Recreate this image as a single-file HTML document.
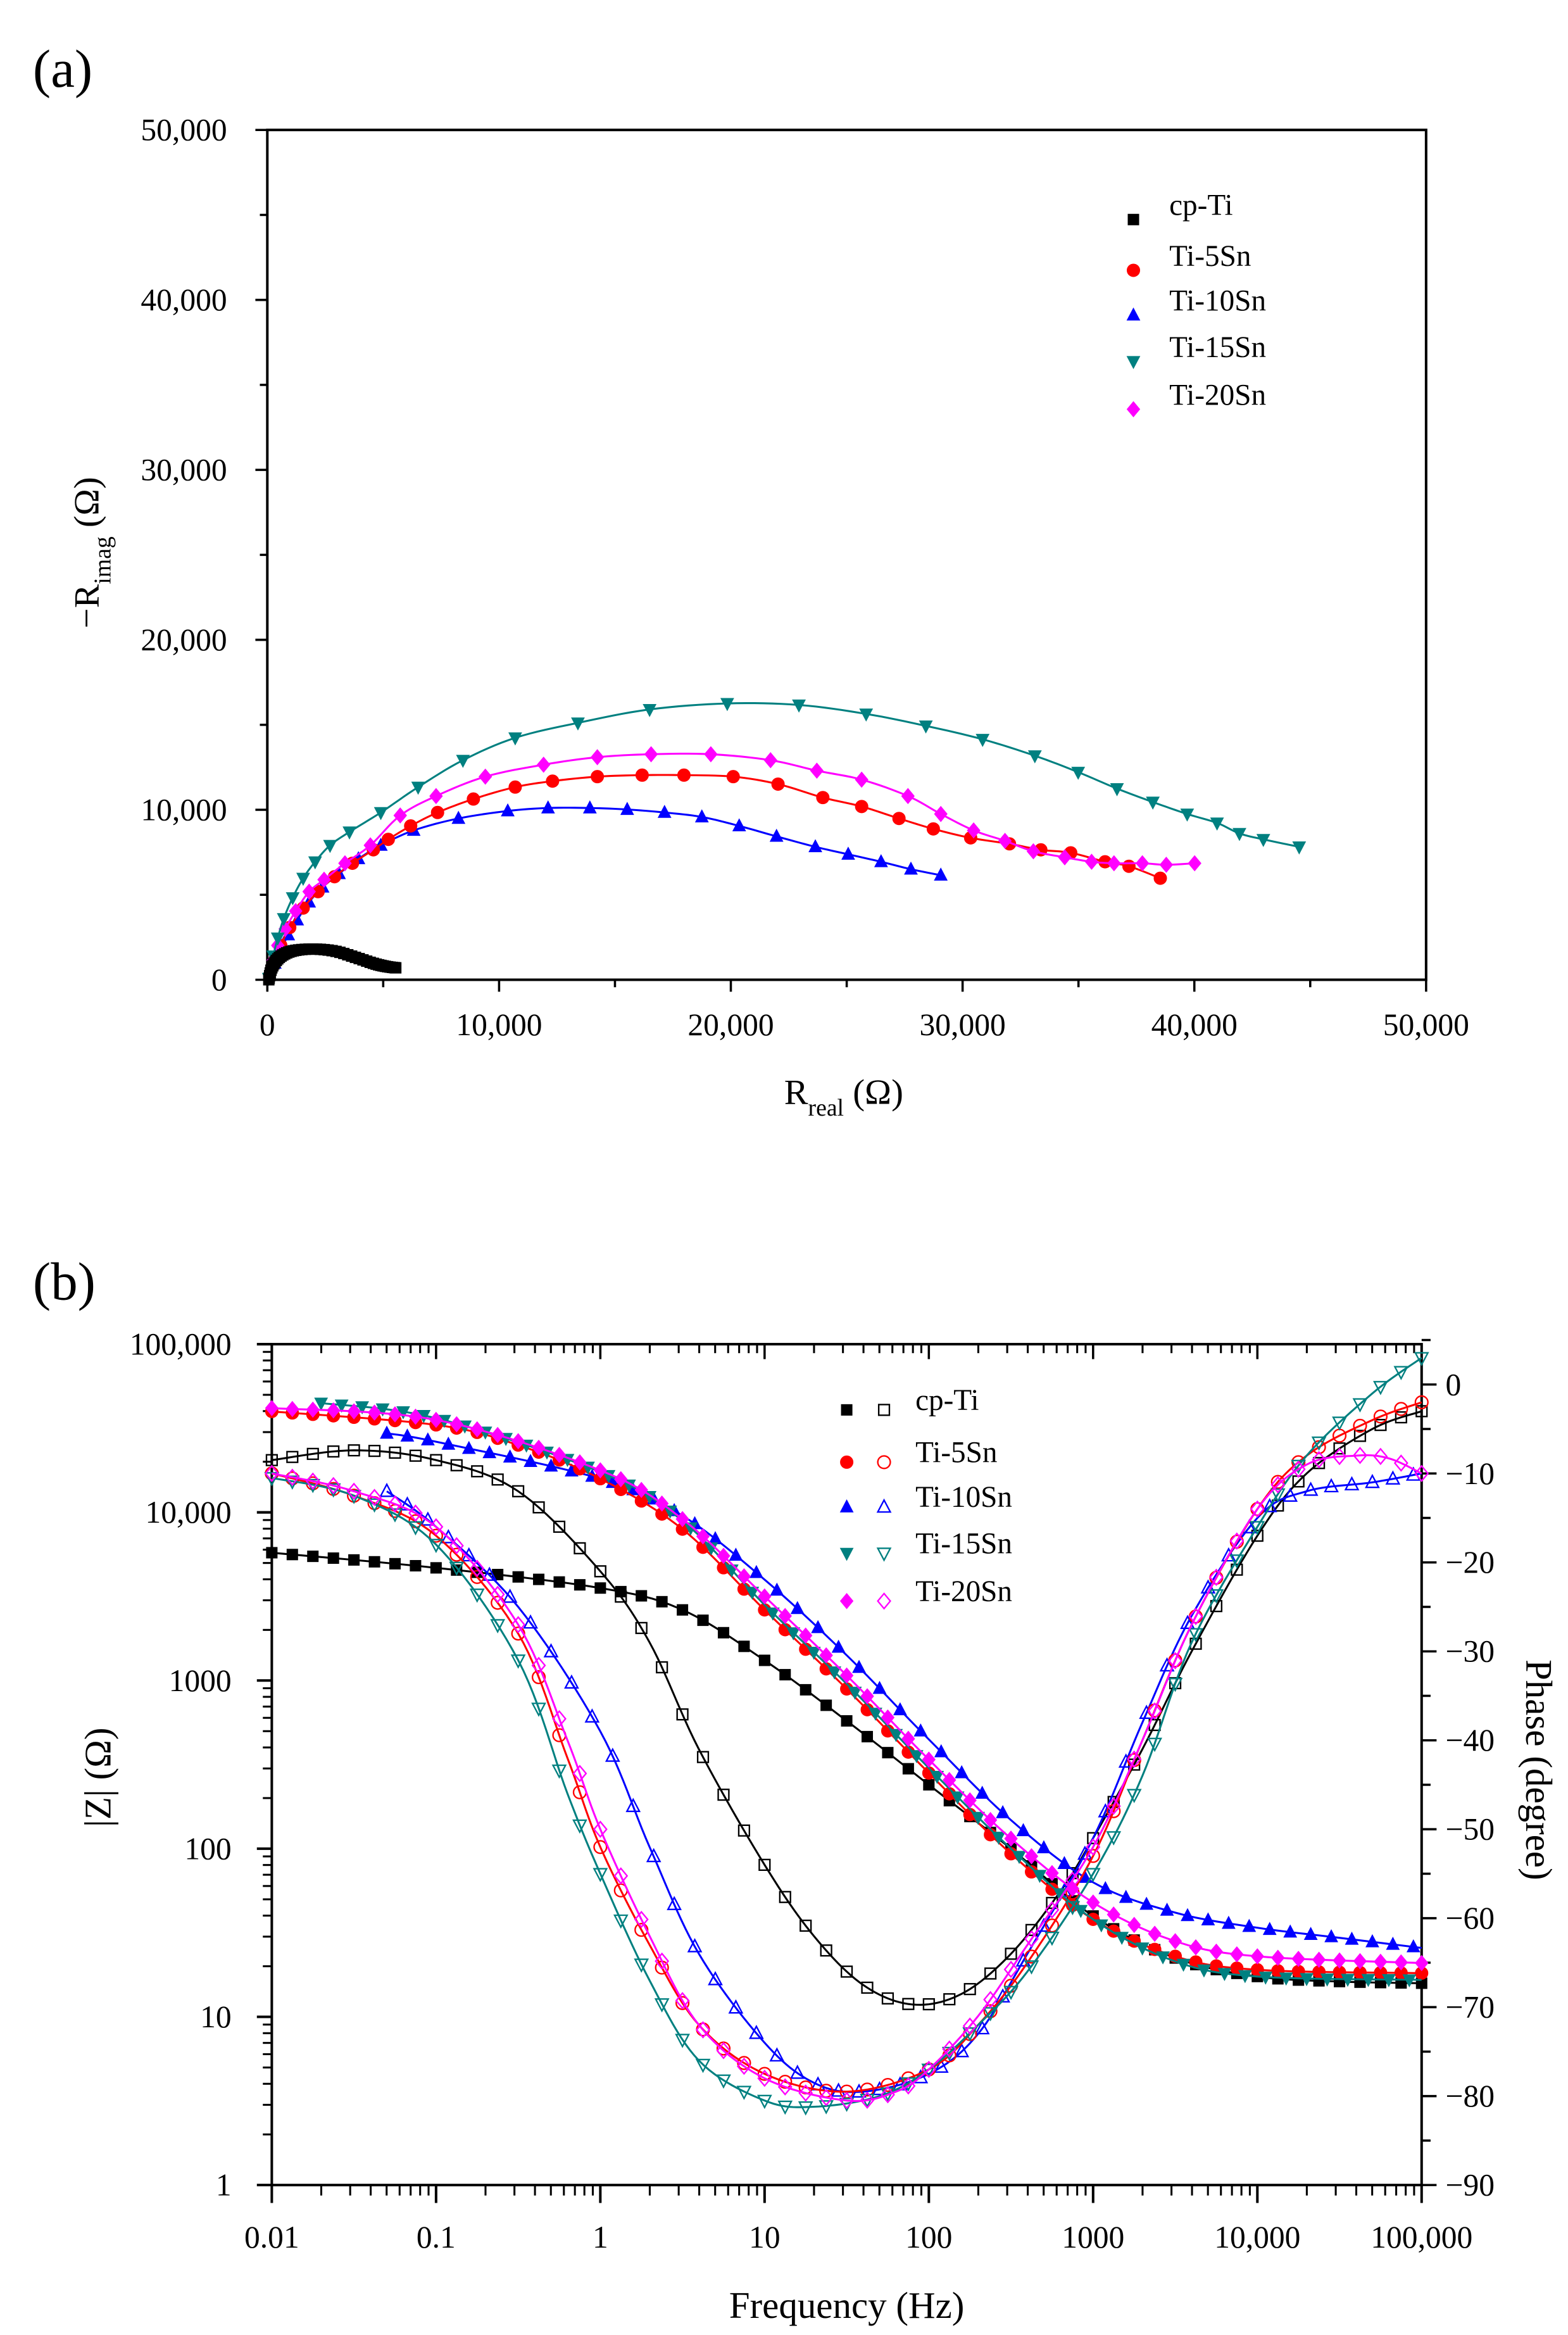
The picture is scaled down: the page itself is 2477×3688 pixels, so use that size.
<!DOCTYPE html>
<html><head><meta charset="utf-8"><style>html,body{margin:0;padding:0;background:#fff}svg{display:block}text{font-family:"Liberation Serif",serif}</style></head>
<body>
<svg id="s" xmlns="http://www.w3.org/2000/svg" width="2477" height="3688" viewBox="0 0 1050 1563.4" font-family="Liberation Serif, serif">
<rect width="1050" height="1564" fill="#fff"/>
<g id="g"></g>
</svg>
<script>
var NS="http://www.w3.org/2000/svg",G=document.getElementById('g');
function el(t,a,txt){var e=document.createElementNS(NS,t);for(var k in a)e.setAttribute(k,a[k]);if(txt!==undefined)e.textContent=txt;G.appendChild(e);return e;}
function line(x1,y1,x2,y2,w){el('line',{x1:x1,y1:y1,x2:x2,y2:y2,stroke:'#000','stroke-width':w||1.5});}
function text(x,y,s,sz,anc,extra){var a={x:x,y:y,'font-size':sz,'text-anchor':anc||'middle',fill:'#000'};for(var k in extra)a[k]=extra[k];return el('text',a,s);}
function cr(p,t){
 var p0=p[0],p1=p[1],p2=p[2],p3=p[3];
 function f(a,b,c,d){return 0.5*((2*b)+(-a+c)*t+(2*a-5*b+4*c-d)*t*t+(-a+3*b-3*c+d)*t*t*t);}
 return [f(p0[0],p1[0],p2[0],p3[0]),f(p0[1],p1[1],p2[1],p3[1])];}
function smooth(pts,n){var out=[];n=n||10;for(var i=0;i<pts.length-1;i++){var a=pts[Math.max(0,i-1)],b=pts[i],c=pts[i+1],d=pts[Math.min(pts.length-1,i+2)];for(var j=0;j<n;j++)out.push(cr([a,b,c,d],j/n));}out.push(pts[pts.length-1]);return out;}
function yAt(sp,x){for(var i=0;i<sp.length-1;i++){if(sp[i][0]<=x&&sp[i+1][0]>=x){var t=(x-sp[i][0])/((sp[i+1][0]-sp[i][0])||1);return sp[i][1]+t*(sp[i+1][1]-sp[i][1]);}}return sp[sp.length-1][1];}
function path(sp,c){var d='M'+sp.map(function(p){return p[0].toFixed(2)+','+p[1].toFixed(2);}).join('L');el('path',{d:d,fill:'none',stroke:c,'stroke-width':1.3});}
function mk(shape,x,y,c,open){var r=4.2,a={fill:open?'none':c,stroke:c,'stroke-width':open?1:0.5};
 if(shape=='sq'){a.x=x-r*0.85;a.y=y-r*0.85;a.width=r*1.7;a.height=r*1.7;el('rect',a);}
 else if(shape=='ci'){a.cx=x;a.cy=y;a.r=r;el('circle',a);}
 else if(shape=='up'){a.points=(x)+','+(y-r*1.1)+' '+(x+r)+','+(y+r*0.8)+' '+(x-r)+','+(y+r*0.8);el('polygon',a);}
 else if(shape=='dn'){a.points=(x)+','+(y+r*1.1)+' '+(x+r)+','+(y-r*0.8)+' '+(x-r)+','+(y-r*0.8);el('polygon',a);}
 else {a.points=x+','+(y-r*1.2)+' '+(x+r)+','+y+' '+x+','+(y+r*1.2)+' '+(x-r)+','+y;el('polygon',a);}}
var C={k:'#000',r:'#ff0000',b:'#0000ff',t:'#008080',m:'#ff00ff'};

text(22,58,'(a)',36,'start');
var L=179,R=955,T=87,B=656;
el('rect',{x:L,y:T,width:R-L,height:B-T,fill:'none',stroke:'#000','stroke-width':1.7});
for(var i=0;i<=10;i++){var x=L+i*(R-L)/10,maj=i%2==0;line(x,B,x,B+(maj?8:5),1.5);
 var y=B-i*(B-T)/10;line(L,y,L-(maj?8:5),y,1.5);
 if(maj){var v=i*5000,s=v==0?'0':(v/1000)+',000';text(x,B+37,s,21);text(152,y+7,s,21,'end');}}
var t1=text(565,739,'R',24);var ts=document.createElementNS(NS,'tspan');ts.setAttribute('font-size','16');ts.setAttribute('dy','8');ts.textContent='real';t1.appendChild(ts);var ts2=document.createElementNS(NS,'tspan');ts2.setAttribute('dy','-8');ts2.textContent=' (Ω)';t1.appendChild(ts2);
var t2=el('text',{x:0,y:0,'font-size':24,'text-anchor':'middle',transform:'translate(66,370) rotate(-90)'},'−R');var u=document.createElementNS(NS,'tspan');u.setAttribute('font-size','16');u.setAttribute('dy','8');u.textContent='imag';t2.appendChild(u);var u2=document.createElementNS(NS,'tspan');u2.setAttribute('dy','-8');u2.textContent=' (Ω)';t2.appendChild(u2);
var leg=[['sq','k','cp-Ti',145],['ci','r','Ti-5Sn',179],['up','b','Ti-10Sn',209],['dn','t','Ti-15Sn',240],['di','m','Ti-20Sn',272]];
leg.forEach(function(l){mk(l[0],759,l[3]+2,C[l[1]]);text(783,l[3]-1,l[2],20,'start');});
var A={
t:[[180,655],[183,640],[186,628],[190,615],[196,601],[203,588],[211,577],[221,566],[234,557],[255,544],[280,527],[310,509],[345,494],[387,484],[435,475],[487,471],[535,472],[580,478],[620,486],[658,495],[693,506],[722,517],[748,528],[772,537],[795,545],[815,551],[830,558],[846,562],[870,567]],
m:[[180,655],[183,643],[186,633],[191,622],[198,610],[207,597],[217,589],[231,578],[248,566],[268,546],[292,533],[325,520],[364,512],[400,507],[436,505],[476,505],[516,509],[547,516],[577,522],[608,533],[630,545],[652,556],[673,563],[692,570],[713,574],[731,577],[746,578],[765,578],[781,579],[800,578]],
r:[[180,655],[184,643],[188,633],[194,621],[203,608],[213,597],[224,587],[236,578],[250,569],[260,562],[275,553],[293,544],[317,535],[345,527],[370,523],[400,520],[430,519],[458,519],[491,520],[521,525],[551,534],[577,540],[602,548],[625,555],[650,561],[676,565],[697,569],[717,571],[740,577],[756,580],[777,588]],
b:[[180,655],[184,645],[188,636],[193,626],[199,616],[207,604],[216,594],[227,585],[240,575],[255,566],[277,556],[307,548],[340,543],[367,541],[395,541],[420,542],[445,544],[470,547],[495,553],[520,560],[546,567],[568,572],[590,577],[610,582],[630,586]],
k:[[180,656],[182,648],[186,642],[192,638],[200,636],[212,635.5],[225,637],[238,641],[250,645],[258,647],[265,648]]};
var shp={k:'sq',r:'ci',b:'up',t:'dn',m:'di'};
['b','r','m','t'].forEach(function(c){var sp=smooth(A[c],8);path(sp,C[c]);A[c].forEach(function(p,i){if(i>0||c=='t')mk(shp[c],p[0],p[1],C[c]);});});
(function(){var sp=smooth(A.k,10);path(sp,C.k);for(var i=0;i<sp.length;i+=2)mk('sq',sp[i][0],sp[i][1],C.k);})();

text(22,870,'(b)',36,'start');
var L2=182,R2=952,T2=900,B2=1463,DX=(R2-L2)/7,DY=(B2-T2)/5;
function X(lf){return L2+(lf+2)*DX;} function YZ(lz){return B2-lz*DY;} function YP(d){return 927+(-d)*(B2-927)/90;}
el('rect',{x:L2,y:T2,width:R2-L2,height:B2-T2,fill:'none',stroke:'#000','stroke-width':1.7});
var xl=['0.01','0.1','1','10','100','1000','10,000','100,000'];
for(var d=0;d<=7;d++){var x=L2+d*DX;line(x,B2,x,B2+12,1.7);line(x,T2,x,T2+10,1.5);text(x,B2+42,xl[d],21);
 if(d<7)for(var m=2;m<=9;m++){var xm=x+Math.log10(m)*DX;line(xm,B2,xm,B2+7,1.3);line(xm,T2,xm,T2+6,1.3);}}
var yl=['1','10','100','1000','10,000','100,000'];
for(var d=0;d<=5;d++){var y=B2-d*DY;line(L2,y,L2-10,y,1.7);text(155,y+7,yl[d],21,'end');
 if(d<5)for(var m=2;m<=9;m++){var ym=y-Math.log10(m)*DY;line(L2,ym,L2-6,ym,1.3);}}
for(var p=0;p<=18;p++){var y=YP(-p*5);if(y<T2)continue;line(R2,y,R2+(p%2==0?10:6),y,1.5);if(p%2==0)text(968,y+7,p==0?'0':'−'+(p*5),21,'start');}
line(R2,YP(5),R2+6,YP(5),1.5);
text(567,1552,'Frequency (Hz)',25);
el('text',{x:0,y:0,'font-size':25,'text-anchor':'middle',transform:'translate(74,1190) rotate(-90)'},'|Z| (Ω)');
el('text',{x:0,y:0,'font-size':25,'text-anchor':'middle',transform:'translate(1022,1185) rotate(90)'},'Phase (degree)');
var lg=[['k','cp-Ti',938],['r','Ti-5Sn',973],['b','Ti-10Sn',1003],['t','Ti-15Sn',1034],['m','Ti-20Sn',1066]];
lg.forEach(function(l){mk(shp[l[0]],567,l[2]+6,C[l[0]]);mk(shp[l[0]],592,l[2]+6,C[l[0]],true);text(613,l[2]+6,l[1],20,'start');});
var MAG={
k:[[-2,3.76],[-1,3.67],[0,3.55],[0.5,3.42],[1,3.12],[1.5,2.76],[2,2.38],[2.5,2.0],[3,1.6],[3.5,1.35],[4,1.24],[4.5,1.21],[5,1.2]],
r:[[-2,4.6],[-1,4.52],[-0.5,4.4],[0,4.2],[0.5,3.9],[1,3.42],[1.5,2.95],[2,2.45],[2.5,1.97],[3,1.58],[3.5,1.36],[4,1.28],[5,1.26]],
t:[[-1.7,4.65],[-1,4.56],[0,4.24],[0.5,3.95],[1,3.45],[1.5,2.98],[2,2.48],[2.5,2.0],[3,1.58],[3.5,1.33],[4,1.24],[5,1.22]],
b:[[-1.3,4.47],[-1,4.42],[0,4.2],[0.5,3.98],[1,3.6],[1.5,3.15],[2,2.65],[2.5,2.17],[3,1.8],[3.5,1.62],[4,1.53],[4.5,1.47],[5,1.41]],
m:[[-2,4.62],[-1,4.55],[0,4.25],[0.5,3.96],[1,3.5],[1.5,3.03],[2,2.53],[2.5,2.06],[3,1.68],[3.5,1.45],[4,1.36],[5,1.32]]};
var PH={
k:[[-2,-8.5],[-1.5,-7.4],[-1,-8.5],[-0.5,-12],[0,-21],[0.3,-29],[0.6,-41],[1,-54],[1.3,-62],[1.6,-67.5],[1.9,-69.7],[2.2,-68.5],[2.5,-64],[2.8,-57],[3,-51],[3.3,-41],[3.6,-30],[4,-17],[4.3,-10],[4.7,-5],[5,-3]],
r:[[-2,-10],[-1.5,-12.5],[-1,-17],[-0.5,-28],[-0.2,-42],[0,-52],[0.3,-63],[0.6,-72],[1,-77.5],[1.5,-79.5],[2,-77],[2.3,-72],[2.6,-65],[3,-53],[3.3,-40],[3.6,-27],[4,-14],[4.3,-8],[4.7,-4],[5,-2]],
t:[[-2,-10.5],[-1.5,-12.5],[-1,-18],[-0.5,-31],[-0.2,-46],[0,-55],[0.3,-67],[0.6,-76],[1,-80.5],[1.3,-81.2],[1.7,-80],[2,-77],[2.3,-72],[2.6,-66],[3,-55],[3.3,-44],[3.6,-29],[4,-16],[4.3,-8],[4.7,-1],[5,3]],
m:[[-2,-10],[-1.5,-12],[-1,-16],[-0.5,-27],[-0.2,-40],[0,-50],[0.3,-62],[0.6,-72],[1,-78],[1.5,-80.5],[1.8,-79.5],[2,-77],[2.3,-71],[2.6,-63],[3,-52],[3.3,-40],[3.6,-27],[4,-14],[4.3,-9],[4.6,-8],[4.8,-8.3],[5,-10]],
b:[[-1.3,-12],[-1,-16],[-0.5,-25],[0,-39],[0.3,-52],[0.6,-64],[1,-74],[1.3,-78.5],[1.6,-79.5],[2,-77.5],[2.3,-73],[2.6,-64],[3,-51],[3.3,-38],[3.6,-26],[4,-15],[4.3,-12],[4.7,-11],[5,-10]]};
['k','b','r','t','m'].forEach(function(c){
 [[MAG[c],YZ,false],[PH[c],YP,true]].forEach(function(s){
  var pts=s[0].map(function(p){return [X(p[0]),s[1](p[1])];});var sp=smooth(pts,12);path(sp,C[c]);
  var f0=s[0][0][0];for(var lf=f0;lf<=5.001;lf+=1/8){var x=X(lf);mk(shp[c],x,yAt(sp,x),C[c],s[2]);}
 });});
</script>
</body></html>
